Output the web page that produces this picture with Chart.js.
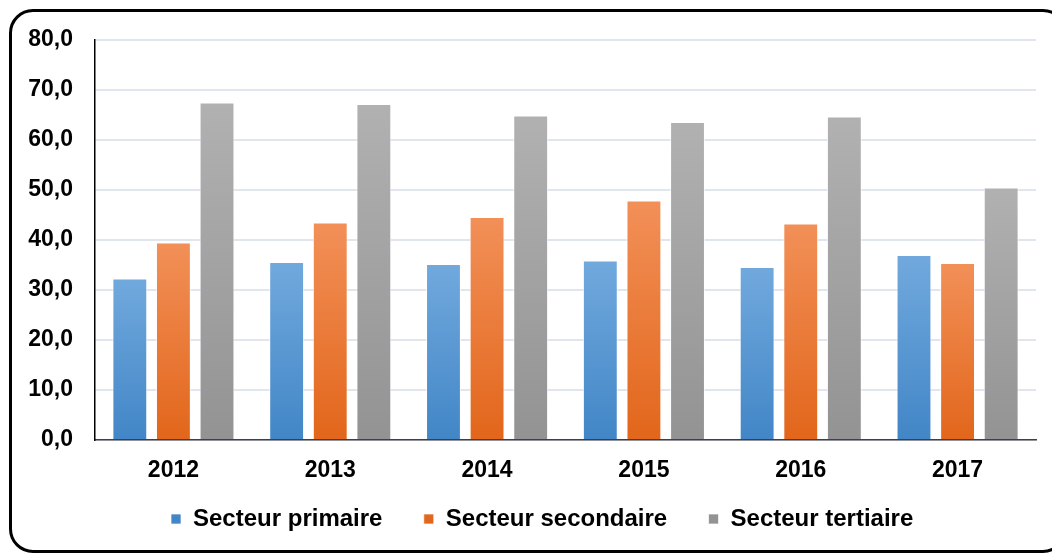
<!DOCTYPE html>
<html>
<head>
<meta charset="utf-8">
<script src="https://cdn.jsdelivr.net/npm/chart.js@4/dist/chart.umd.min.js"></script>
<style>
    html, body { margin: 0; padding: 0; background: #ffffff; }
    #wrap { position: relative; width: 1052px; height: 553px; overflow: hidden; }
    #frame {
        position: absolute; left: 9px; top: 9px; width: 1058px; height: 544px;
        box-sizing: border-box; border: 3px solid #000; border-radius: 24px;
        pointer-events: none;
    }
</style>
</head>
<body>
<div id="wrap">
    <canvas id="secteurs-chart" width="1052" height="553"></canvas>
    <div id="frame"></div>
</div>
<script>
// Données
const annees = ['2012', '2013', '2014', '2015', '2016', '2017'];
const secteurPrimaire = [32.3, 35.6, 35.2, 35.9, 34.6, 37.0];
const secteurSecondaire = [39.5, 43.5, 44.6, 47.9, 43.3, 35.4];
const secteurTertiaire = [67.5, 67.2, 64.9, 63.6, 64.7, 50.5];
const ticksY = [0, 10, 20, 30, 40, 50, 60, 70, 80];

const police = "'Liberation Sans', Arial, sans-serif";

// Dégradé vertical par barre (clair en haut, foncé en bas)
function degrade(haut, bas, uni) {
    return function(context) {
        const chart = context.chart;
        const v = context.raw;
        if (!chart.chartArea || typeof v !== 'number') return uni;
        const y = chart.scales.y;
        const g = chart.ctx.createLinearGradient(0, y.getPixelForValue(v), 0, y.getPixelForValue(0));
        g.addColorStop(0, haut);
        g.addColorStop(1, bas);
        return g;
    };
}

function serie(label, data, haut, bas, uni) {
    return {
        label: label,
        data: data,
        backgroundColor: degrade(haut, bas, uni),
        borderColor: 'rgba(255,255,255,0.7)',
        borderWidth: 1,
        categoryPercentage: 0.834,
        barPercentage: 0.80
    };
}

// Espaces ajoutés après le texte pour écarter les éléments de la légende
const espaceLegende = ['     ', '     ', '       '];

const chart = new Chart(document.getElementById('secteurs-chart'), {
    type: 'bar',
    data: {
        labels: annees,
        datasets: [
            serie('Secteur primaire', secteurPrimaire, '#71a9dd', '#4286c7', '#5b9bd5'),
            serie('Secteur secondaire', secteurSecondaire, '#f29058', '#e2661b', '#ed7d31'),
            serie('Secteur tertiaire', secteurTertiaire, '#b1b1b1', '#939393', '#a5a5a5')
        ]
    },
    options: {
        responsive: false,
        animation: false,
        layout: {
            padding: { top: 40, right: 16, bottom: 12, left: 0 }
        },
        plugins: {
            tooltip: { enabled: false },
            legend: {
                position: 'bottom',
                fullSize: false,
                labels: {
                    boxWidth: 10,
                    boxHeight: 10,
                    padding: 8,
                    color: '#000',
                    font: { family: police, size: 24, weight: 'bold' },
                    generateLabels: function(chart) {
                        const items = Chart.defaults.plugins.legend.labels.generateLabels(chart);
                        items.forEach((item, i) => { item.text = item.text + espaceLegende[i]; });
                        return items;
                    }
                }
            }
        },
        scales: {
            x: {
                grid: { display: false },
                border: { color: '#404040', width: 1.5 },
                ticks: {
                    color: '#000',
                    padding: 9,
                    font: { family: police, size: 23, weight: 'bold' }
                },
                afterFit: function(scale) { scale.height = 59; }
            },
            y: {
                min: 0,
                max: 80,
                afterBuildTicks: function(scale) {
                    scale.ticks = ticksY.map(v => ({ value: v }));
                },
                grid: { color: '#e1e6ee', lineWidth: 2, drawTicks: false },
                border: { color: '#000', width: 1.5 },
                ticks: {
                    color: '#000',
                    padding: 22,
                    font: { family: police, size: 23, weight: 'bold' },
                    callback: function(v) { return v.toFixed(1).replace('.', ','); }
                },
                afterFit: function(scale) { scale.width = 95; }
            }
        }
    }
});
</script>
</body>
</html>
